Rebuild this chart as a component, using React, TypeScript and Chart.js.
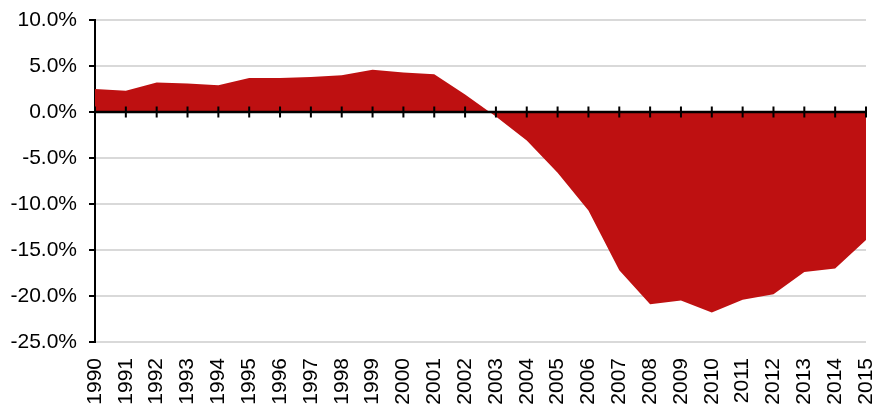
import React, { useEffect, useRef } from "react";
import { Chart, registerables } from "chart.js";

Chart.register(...registerables);

const years = [
  "1990", "1991", "1992", "1993", "1994", "1995", "1996", "1997", "1998",
  "1999", "2000", "2001", "2002", "2003", "2004", "2005", "2006", "2007",
  "2008", "2009", "2010", "2011", "2012", "2013", "2014", "2015",
];

const values = [
  2.5, 2.3, 3.2, 3.1, 2.9, 3.7, 3.7, 3.8, 4.0, 4.6, 4.3, 4.1, 1.9, -0.5,
  -3.1, -6.6, -10.7, -17.2, -20.9, -20.5, -21.8, -20.4, -19.8, -17.4, -17.0,
  -13.9,
];

const yMin = -25;
const yMax = 10;
const yStep = 5;

const FONT = "'Liberation Sans', Arial, sans-serif";

const zeroAxis = {
  id: "zeroAxis",
  afterDatasetsDraw(chart: any) {
    const { ctx, chartArea } = chart;
    const x = chart.scales.x;
    const y = chart.scales.y;
    const y0 = y.getPixelForValue(0);
    ctx.save();
    ctx.strokeStyle = "#000";
    ctx.lineWidth = 2.5;
    ctx.beginPath();
    ctx.moveTo(chartArea.left, y0);
    ctx.lineTo(chartArea.right, y0);
    ctx.stroke();
    ctx.lineWidth = 2;
    ctx.beginPath();
    years.forEach((_, i) => {
      const px = x.getPixelForValue(i);
      ctx.moveTo(px, y0 - 5.5);
      ctx.lineTo(px, y0 + 5.5);
    });
    ctx.stroke();
    ctx.restore();
  },
};

export default function App() {
  const ref = useRef<HTMLCanvasElement | null>(null);

  useEffect(() => {
    if (!ref.current) return;
    const chart = new Chart(ref.current, {
      type: "line",
      data: {
        labels: years,
        datasets: [
          {
            data: values,
            fill: "origin",
            backgroundColor: "#BE1011",
            borderWidth: 0,
            pointRadius: 0,
            tension: 0,
          },
        ],
      },
      options: {
        responsive: false,
        animation: false,
        layout: { padding: { top: 20, right: 18, left: 0, bottom: 0 } },
        plugins: {
          legend: { display: false },
          tooltip: { enabled: false },
        },
        scales: {
          x: {
            offset: false,
            grid: { display: false, drawTicks: false },
            border: { display: false },
            ticks: {
              minRotation: 90,
              maxRotation: 90,
              autoSkip: false,
              padding: 16,
              color: "#000",
              font: { family: FONT, size: 21 },
            },
            afterFit: (s: any) => {
              s.height = 64;
              s.paddingLeft = 0;
              s.paddingRight = 0;
            },
          },
          y: {
            min: yMin,
            max: yMax,
            ticks: {
              stepSize: yStep,
              padding: 12,
              color: "#000",
              font: { family: FONT, size: 21 },
              callback: (v: any) => Number(v).toFixed(1) + "%",
            },
            grid: {
              color: "#d9d9d9",
              lineWidth: 2,
              tickColor: "#000",
              tickWidth: 2,
              tickLength: 6,
            },
            border: { display: true, color: "#000", width: 2 },
            afterFit: (s: any) => {
              s.width = 95;
              s.paddingTop = 0;
              s.paddingBottom = 0;
            },
          },
        },
      },
      plugins: [zeroAxis],
    });
    return () => chart.destroy();
  }, []);

  return (
    <div style={{ position: "absolute", left: 0, top: 0, width: 884, height: 406 }}>
      <canvas ref={ref} width={884} height={406} />
    </div>
  );
}
